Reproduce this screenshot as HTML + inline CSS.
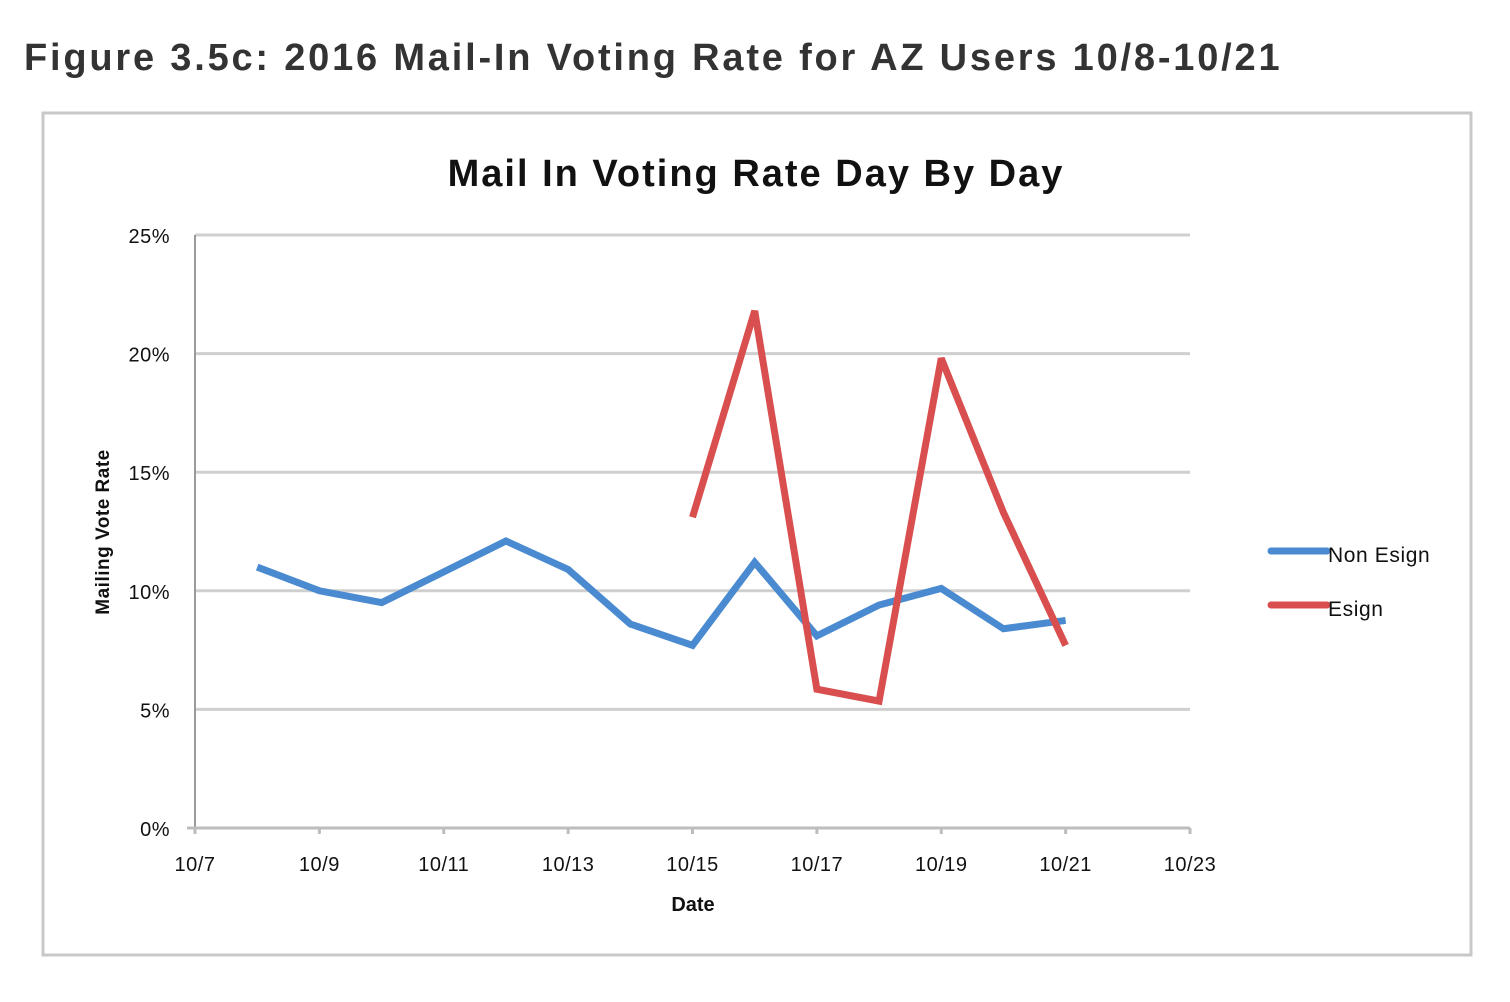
<!DOCTYPE html>
<html><head><meta charset="utf-8">
<style>
html,body{margin:0;padding:0;background:#fff;}
body{width:1510px;height:1002px;overflow:hidden;position:relative;font-family:"Liberation Sans",sans-serif;}
#fig-title{position:absolute;left:24px;top:37px;font-size:38px;font-weight:bold;color:#333;letter-spacing:2.8px;white-space:nowrap;}
svg{position:absolute;left:0;top:0;}
</style></head>
<body>
<div id="fig-title">Figure 3.5c: 2016 Mail-In Voting Rate for AZ Users 10/8-10/21</div>
<svg id="chart" width="1510" height="1002">
  <rect x="43" y="113" width="1428" height="842" fill="#fff" stroke="#c8c8c8" stroke-width="3"/>
  <text x="756" y="186" text-anchor="middle" font-size="38" font-weight="bold" fill="#111" letter-spacing="2">Mail In Voting Rate Day By Day</text>
  <g id="grid"></g>
  <g id="series"></g>
  <text x="693" y="911" text-anchor="middle" font-size="20" font-weight="bold" fill="#111">Date</text>
  <text transform="translate(109,532) rotate(-90)" text-anchor="middle" font-size="19" font-weight="bold" fill="#111" letter-spacing="0.5">Mailing Vote Rate</text>
  <g>
    <line x1="1271" y1="551" x2="1327" y2="551" stroke="#4a8ad0" stroke-width="7" stroke-linecap="round"/>
    <text x="1328" y="562" font-size="21" fill="#111" letter-spacing="0.6">Non Esign</text>
    <line x1="1271" y1="605" x2="1327" y2="605" stroke="#d94f4f" stroke-width="7" stroke-linecap="round"/>
    <text x="1328" y="616" font-size="21" fill="#111" letter-spacing="0.6">Esign</text>
  </g>
</svg>
<script>
const nonEsignDays=[8,9,10,11,12,13,14,15,16,17,18,19,20,21];
const nonEsignValues=[11.0,10.0,9.5,10.8,12.1,10.9,8.6,7.7,11.2,8.1,9.4,10.1,8.4,8.75];
const esignDays=[15,16,17,18,19,20,21];
const esignValues=[13.1,21.8,5.85,5.35,19.8,13.3,7.7];
const yTicks=[0,5,10,15,20,25];
const yTickLabels=["0%","5%","10%","15%","20%","25%"];
const xTicks=[7,9,11,13,15,17,19,21,23];
const xTickLabels=["10/7","10/9","10/11","10/13","10/15","10/17","10/19","10/21","10/23"];

const X0=195,X1=1190,Y0=828,Y1=235;
const xs=d=>X0+(d-7)/16*(X1-X0);
const ys=v=>Y0-v/25*(Y0-Y1);
const NS="http://www.w3.org/2000/svg";
const grid=document.getElementById('grid');
function mk(t,a,p){const e=document.createElementNS(NS,t);for(const k in a)e.setAttribute(k,a[k]);p.appendChild(e);return e;}
yTicks.forEach((v,i)=>{
  if(v>0){
    const g=mk('line',{x1:X0,x2:X1,y1:ys(v),y2:ys(v),stroke:'#cfcfcf','stroke-width':3},grid);
    
    
  }
  const t=mk('text',{x:170,y:ys(v)+8,'text-anchor':'end','font-size':20,fill:'#111','letter-spacing':0.5},grid);
  t.textContent=yTickLabels[i];
  
  
});
const ax=mk('line',{x1:X0,x2:X0,y1:Y1,y2:Y0,stroke:'#9a9a9a','stroke-width':2},grid);


const bx=mk('line',{x1:X0-8,x2:X1,y1:Y0,y2:Y0,stroke:'#bdbdbd','stroke-width':3},grid);


xTicks.forEach((d,i)=>{
  const tk=mk('line',{x1:xs(d),x2:xs(d),y1:Y0,y2:Y0+6,stroke:'#bdbdbd','stroke-width':3},grid);
  
  
  const t=mk('text',{x:xs(d),y:Y0+43,'text-anchor':'middle','font-size':20,fill:'#111','letter-spacing':0.5},grid);
  t.textContent=xTickLabels[i];
  
  
});
const ser=document.getElementById('series');
function line(days,vals,color,name){
  const p=mk('polyline',{points:days.map((d,i)=>xs(d)+','+ys(vals[i])).join(' '),fill:'none',stroke:color,'stroke-width':7,'stroke-linejoin':'miter','stroke-miterlimit':3},ser);
  
  
}
line(nonEsignDays,nonEsignValues,'#4a8ad0','non-esign-line');
line(esignDays,esignValues,'#d94f4f','esign-line');
</script>
</body></html>
